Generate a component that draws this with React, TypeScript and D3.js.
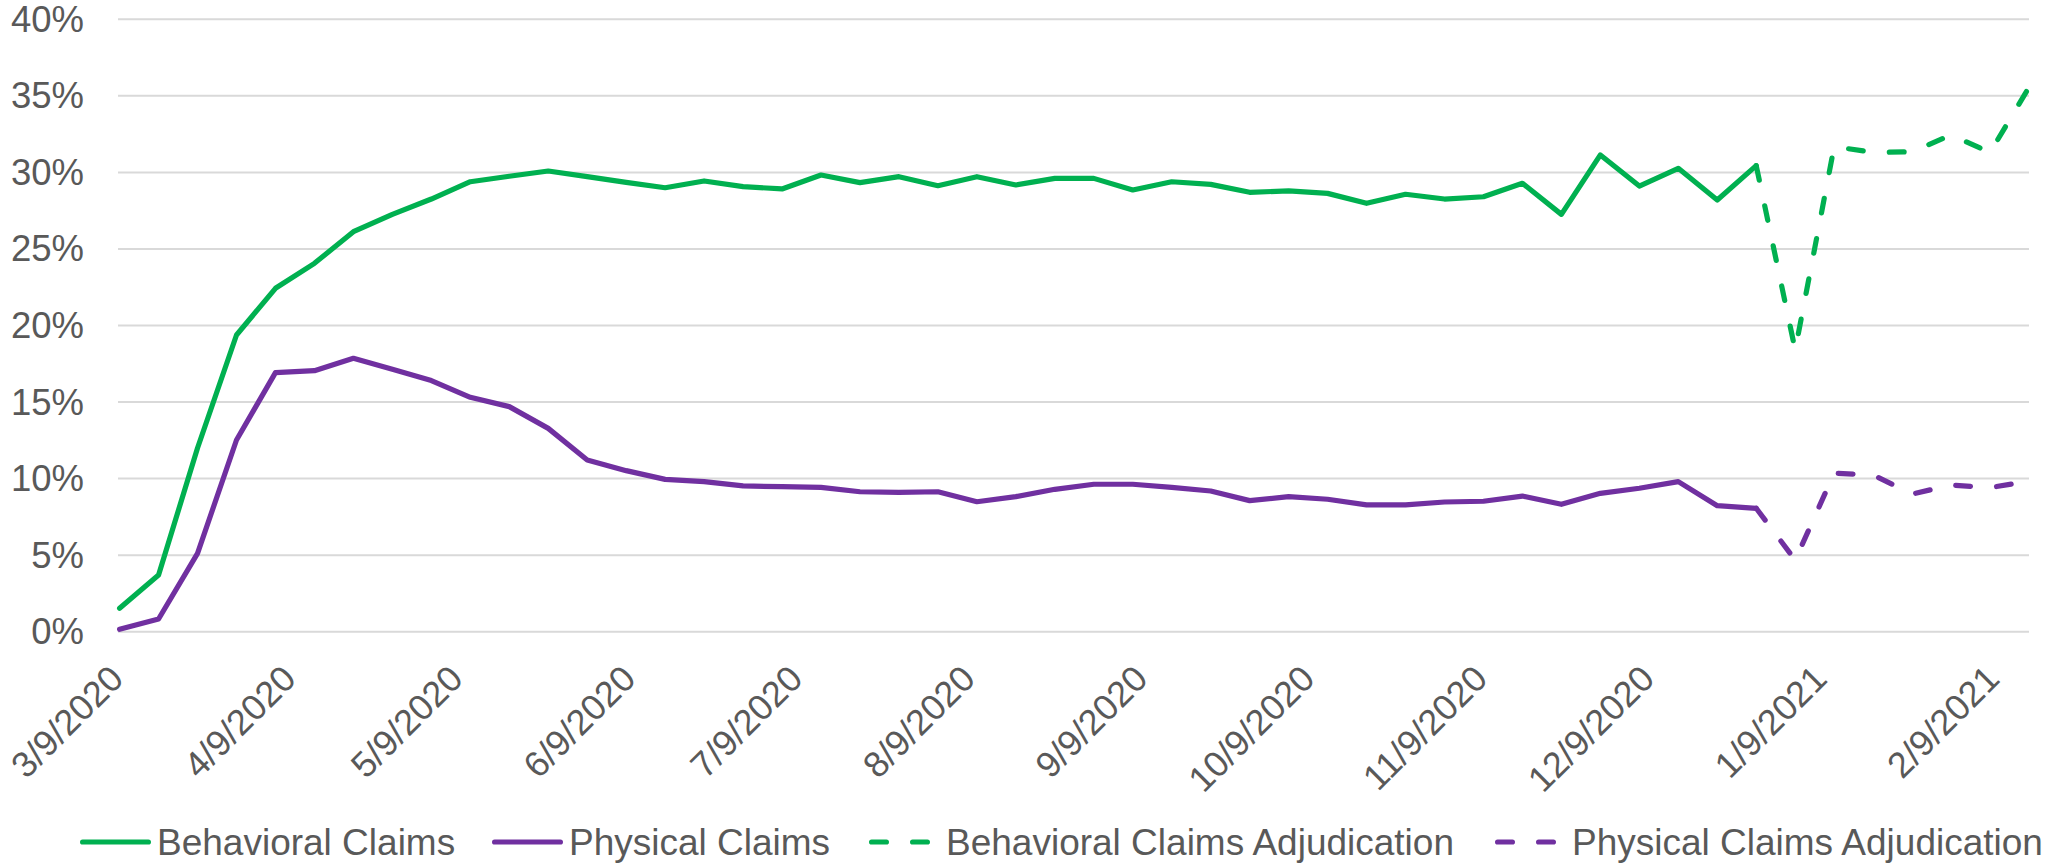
import React from "react";
import * as d3 from "d3";

const dates = [
  "3/9/2020","3/16/2020","3/23/2020","3/30/2020","4/6/2020","4/13/2020","4/20/2020","4/27/2020",
  "5/4/2020","5/11/2020","5/18/2020","5/25/2020","6/1/2020","6/8/2020","6/15/2020","6/22/2020",
  "6/29/2020","7/6/2020","7/13/2020","7/20/2020","7/27/2020","8/3/2020","8/10/2020","8/17/2020",
  "8/24/2020","8/31/2020","9/7/2020","9/14/2020","9/21/2020","9/28/2020","10/5/2020","10/12/2020",
  "10/19/2020","10/26/2020","11/2/2020","11/9/2020","11/16/2020","11/23/2020","11/30/2020","12/7/2020",
  "12/14/2020","12/21/2020","12/28/2020","1/4/2021","1/11/2021","1/18/2021","1/25/2021","2/1/2021",
  "2/8/2021","2/15/2021"
];

const behavioral = [1.53, 3.7, 12.0, 19.38, 22.43, 24.06, 26.13, 27.26, 28.26, 29.39, 29.75, 30.09, 29.72,
  29.35, 29.0, 29.44, 29.07, 28.92, 29.83, 29.33, 29.72, 29.13, 29.72, 29.18, 29.61, 29.61, 28.85, 29.39,
  29.22, 28.7, 28.79, 28.63, 27.98, 28.57, 28.26, 28.41, 29.29, 27.26, 31.14, 29.11, 30.27, 28.2, 30.44];
const physical = [0.16, 0.83, 5.12, 12.52, 16.92, 17.05, 17.86, 17.14, 16.4, 15.31, 14.7, 13.28, 11.21,
  10.52, 9.95, 9.8, 9.52, 9.47, 9.43, 9.14, 9.1, 9.14, 8.49, 8.82, 9.3, 9.63, 9.63, 9.43, 9.19, 8.56,
  8.82, 8.65, 8.28, 8.28, 8.47, 8.52, 8.86, 8.32, 9.04, 9.37, 9.8, 8.23, 8.06];
// adjudication series start at the last actual week (12/28/2020)
const behavioralAdj = [30.44, 18.4, 31.68, 31.31, 31.35, 32.44, 31.3, 35.56];
const physicalAdj = [8.06, 4.68, 10.35, 10.24, 8.99, 9.58, 9.41, 9.83];

const xTickLabels = ["3/9/2020","4/9/2020","5/9/2020","6/9/2020","7/9/2020","8/9/2020","9/9/2020",
  "10/9/2020","11/9/2020","12/9/2020","1/9/2021","2/9/2021"];
const yTicks = [0, 5, 10, 15, 20, 25, 30, 35, 40];

const legendItems = [
  { name: "Behavioral Claims", color: "#00B050", dashed: false },
  { name: "Physical Claims", color: "#7030A0", dashed: false },
  { name: "Behavioral Claims Adjudication", color: "#00B050", dashed: true },
  { name: "Physical Claims Adjudication", color: "#7030A0", dashed: true },
];

const W = 2049, H = 865;
const parse = d3.timeParse("%m/%d/%Y");
const FONT = "'Liberation Sans', Arial, sans-serif";
const TEXT = "#595959";

export default function App() {
  const dts = dates.map((s) => parse(s) as Date);
  const x = d3.scaleTime().domain([dts[0], dts[dts.length - 1]]).range([119.6, 2029]);
  const y = d3.scaleLinear().domain([0, 40]).range([631.7, 19.3]);
  const line = d3.line<[Date, number]>().x((d) => x(d[0])).y((d) => y(d[1]));
  const offset = behavioral.length - 1;
  const bSolid = behavioral.map((v, i) => [dts[i], v] as [Date, number]);
  const pSolid = physical.map((v, i) => [dts[i], v] as [Date, number]);
  const bAdj = behavioralAdj.map((v, i) => [dts[offset + i], v] as [Date, number]);
  const pAdj = physicalAdj.map((v, i) => [dts[offset + i], v] as [Date, number]);
  const SW = 5.2;
  const dash = "14.8 26.2";
  const legendLineX = [80, 492, 869, 1495];
  const legendTextX = [157, 569, 946, 1572];
  const legendY = 842;

  return (
    <svg width={W} height={H} style={{ position: "absolute", left: 0, top: 0, background: "#fff" }}
      fontFamily={FONT}>
      <rect x={0} y={0} width={W} height={H} fill="#fff" />
      {yTicks.map((t) => (
        <g key={t}>
          <line x1={118} x2={2029} y1={y(t)} y2={y(t)} stroke="#D9D9D9" strokeWidth={2} />
          <text x={84} y={y(t)} textAnchor="end" dominantBaseline="central" fontSize={36.5} fill={TEXT}>
            {t}%
          </text>
        </g>
      ))}
      {xTickLabels.map((s) => {
        const px = x(parse(s) as Date) - 3;
        const py = 672;
        return (
          <text key={s} x={px} y={py} textAnchor="end" dominantBaseline="central" fontSize={36} fill={TEXT}
            transform={`rotate(-45 ${px} ${py})`}>
            {s}
          </text>
        );
      })}
      <path d={line(bSolid) || ""} fill="none" stroke="#00B050" strokeWidth={SW} strokeLinejoin="round" strokeLinecap="round" />
      <path d={line(pSolid) || ""} fill="none" stroke="#7030A0" strokeWidth={SW} strokeLinejoin="round" strokeLinecap="round" />
      <path d={line(bAdj) || ""} fill="none" stroke="#00B050" strokeWidth={SW} strokeDasharray={dash} strokeLinejoin="round" strokeLinecap="round" />
      <path d={line(pAdj) || ""} fill="none" stroke="#7030A0" strokeWidth={SW} strokeDasharray={dash} strokeLinejoin="round" strokeLinecap="round" />
      {legendItems.map((it, i) => (
        <g key={it.name}>
          <line x1={legendLineX[i] + 2.6} x2={legendLineX[i] + 68.4} y1={legendY} y2={legendY} stroke={it.color}
            strokeWidth={SW} strokeLinecap="round" strokeDasharray={it.dashed ? dash : undefined} />
          <text x={legendTextX[i]} y={legendY} dominantBaseline="central" fontSize={37} fill={TEXT}>
            {it.name}
          </text>
        </g>
      ))}
    </svg>
  );
}
